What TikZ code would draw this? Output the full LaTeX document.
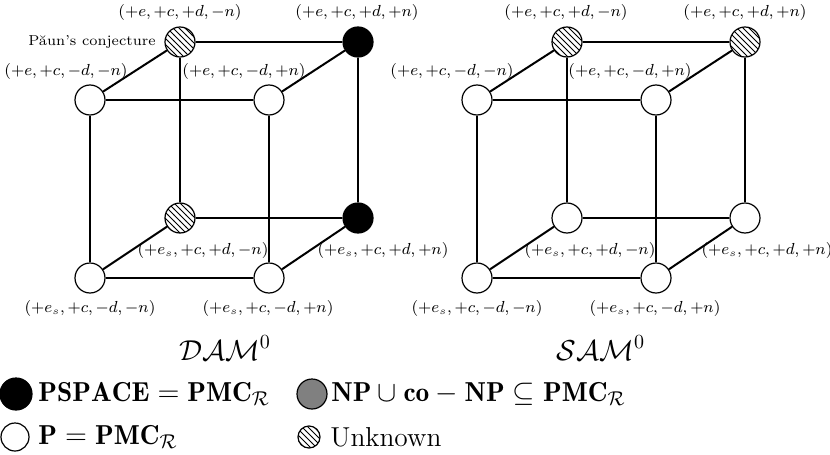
\documentclass[tikz,border=0pt]{standalone}
\usepackage{fontspec}
\usepackage{amsmath,amssymb}
\usetikzlibrary{patterns}
\begin{document}
\begin{tikzpicture}[x=0.5pt,y=-0.5pt,
  vtx/.style={circle,draw=black,line width=0.6pt,minimum size=15pt,inner sep=0pt},
  wht/.style={vtx,fill=white},
  blk/.style={vtx,fill=black},
  hat/.style={vtx,pattern=north west lines},
  edge/.style={line width=1pt},
  lab/.style={font=\fontsize{7.7}{9}\selectfont,inner sep=0pt},
  ttl/.style={font=\Large,inner sep=0pt},
  leg/.style={font=\fontsize{13.7}{16}\selectfont,inner sep=0pt,anchor=west}]
\useasboundingbox (0,0) rectangle (830,455);
% ---- left cube (DAM^0)
\node[hat] (lBTL) at (180,42) {};
\node[blk] (lBTR) at (358,42) {};
\node[wht] (lFTL) at (90,100) {};
\node[wht] (lFTR) at (269,100) {};
\node[hat] (lBBL) at (180,218) {};
\node[blk] (lBBR) at (358,218) {};
\node[wht] (lFBL) at (90,278) {};
\node[wht] (lFBR) at (269,278) {};
\foreach \a/\b in {lBTL/lBTR,lBTR/lBBR,lBBR/lBBL,lBBL/lBTL,
                   lFTL/lFTR,lFTR/lFBR,lFBR/lFBL,lFBL/lFTL,
                   lFTL/lBTL,lFTR/lBTR,lFBL/lBBL,lFBR/lBBR}
  \draw[edge] (\a) -- (\b);
\node[lab] (lBTLt) at (180,13) {$(+e,+c,+d,-n)$};
\node[lab] (lBTRt) at (357,13) {$(+e,+c,+d,+n)$};
\node[lab,anchor=east,font=\fontsize{7.2}{9}\selectfont] (paun) at (156,42) {P\u{a}un's conjecture};
\node[lab] (lFTLt) at (66,71) {$(+e,+c,-d,-n)$};
\node[lab] (lFTRt) at (244,71) {$(+e,+c,-d,+n)$};
\node[lab] (lBBLt) at (203,250) {$(+e_s,+c,+d,-n)$};
\node[lab] (lBBRt) at (383,250) {$(+e_s,+c,+d,+n)$};
\node[lab] (lFBLt) at (90,308) {$(+e_s,+c,-d,-n)$};
\node[lab] (lFBRt) at (268,308) {$(+e_s,+c,-d,+n)$};
\node[ttl] (dam) at (225,348) {$\mathcal{DAM}^0$};
% ---- right cube (SAM^0)
\node[hat] (rBTL) at (567,42) {};
\node[hat] (rBTR) at (745,42) {};
\node[wht] (rFTL) at (477,100) {};
\node[wht] (rFTR) at (656,100) {};
\node[wht] (rBBL) at (567,218) {};
\node[wht] (rBBR) at (745,218) {};
\node[wht] (rFBL) at (477,278) {};
\node[wht] (rFBR) at (656,278) {};
\foreach \a/\b in {rBTL/rBTR,rBTR/rBBR,rBBR/rBBL,rBBL/rBTL,
                   rFTL/rFTR,rFTR/rFBR,rFBR/rFBL,rFBL/rFTL,
                   rFTL/rBTL,rFTR/rBTR,rFBL/rBBL,rFBR/rBBR}
  \draw[edge] (\a) -- (\b);
\node[lab] (rBTLt) at (566,13) {$(+e,+c,+d,-n)$};
\node[lab] (rBTRt) at (745,13) {$(+e,+c,+d,+n)$};
\node[lab] (rFTLt) at (452,71) {$(+e,+c,-d,-n)$};
\node[lab] (rFTRt) at (630,71) {$(+e,+c,-d,+n)$};
\node[lab] (rBBLt) at (590,250) {$(+e_s,+c,+d,-n)$};
\node[lab] (rBBRt) at (767,250) {$(+e_s,+c,+d,+n)$};
\node[lab] (rFBLt) at (477,308) {$(+e_s,+c,-d,-n)$};
\node[lab] (rFBRt) at (655,308) {$(+e_s,+c,-d,+n)$};
\node[ttl] (sam) at (601,348) {$\mathcal{SAM}^0$};
% ---- legend
\node[vtx,fill=black,minimum size=16pt] (kb) at (16,394) {};
\node[leg] (kbt) at (38,394) {$\mathbf{PSPACE}=\mathbf{PMC}_{\mathcal{R}}$};
\node[vtx,fill=white,minimum size=14pt] (kw) at (15,437) {};
\node[leg] (kwt) at (38,437) {$\mathbf{P}=\mathbf{PMC}_{\mathcal{R}}$};
\node[vtx,fill=gray,minimum size=15pt] (kg) at (312,394) {};
\node[leg] (kgt) at (331,394) {$\mathbf{NP}\cup\mathbf{co}-\mathbf{NP}\subseteq\mathbf{PMC}_{\mathcal{R}}$};
\node[vtx,pattern=north west lines,minimum size=11pt] (kh) at (309,437) {};
\node[leg] (kht) at (330,437) {Unknown};
\end{tikzpicture}
\end{document}
